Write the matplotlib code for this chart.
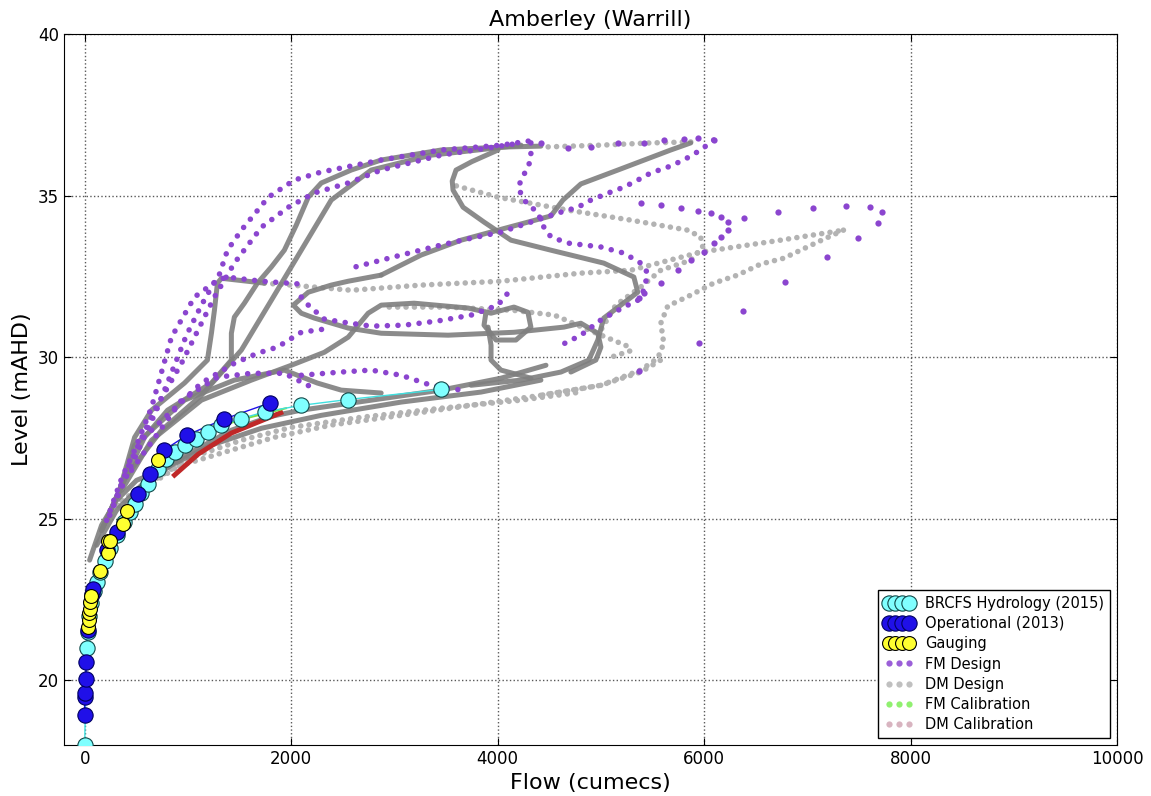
import matplotlib
matplotlib.use('Agg')
import matplotlib.pyplot as plt
from matplotlib.lines import Line2D
from matplotlib.legend_handler import HandlerLine2D

# Rating curves (flow in cumecs, level in mAHD)
brcfs_flow = [0, 20, 30, 45, 65, 90, 116, 150, 196, 250, 310, 380, 440, 487, 550, 616, 712, 790,
              873, 970, 1083, 1196, 1325, 1512, 1750, 2099, 2550, 3453]
brcfs_level = [18.0, 21.0, 21.5, 22.0, 22.4, 22.75, 23.04, 23.35, 23.7, 24.1, 24.5, 24.9, 25.2, 25.47,
               25.8, 26.09, 26.55, 26.85, 27.07, 27.28, 27.48, 27.69, 27.89, 28.1, 28.31, 28.51, 28.69, 29.0]

oper_flow = [0, 0, 5, 10, 15, 30, 68, 84, 213, 309, 519, 632, 767, 993, 1347, 1799]
oper_level = [18.92, 19.5, 19.6, 20.05, 20.57, 21.55, 22.68, 22.84, 24.03, 24.59, 25.78, 26.37,
              27.12, 27.59, 28.08, 28.59]

gauge_flow = [36, 42, 45, 50, 55, 62, 148, 222, 229, 243, 374, 413, 712]
gauge_level = [21.65, 21.86, 22.07, 22.22, 22.42, 22.6, 23.38, 23.95, 24.31, 24.3, 24.85, 25.23, 26.83]

# DM design events - dense traces
dm1_q = [164, 338, 484, 648, 967, 1189, 1228, 1257, 1286, 1325, 1741]
dm1_h = [24.64, 25.88, 27.52, 28.36, 29.2, 29.91, 30.74, 31.45, 32.29, 32.44, 32.29]
dm2_q = [164, 358, 580, 803, 1228, 1421, 1421, 1450, 1547, 1673, 1808, 1934, 2050, 2166, 2292, 2582,
         2872, 3452, 4033, 4419]
dm2_h = [24.64, 26.03, 27.52, 28.36, 29.2, 29.91, 30.74, 31.24, 31.67, 32.29, 32.79, 33.31, 34.09,
         34.95, 35.39, 35.79, 36.1, 36.41, 36.5, 36.53]
dm3_q = [164, 406, 745, 1131, 1518, 1808, 2098, 2388, 2775, 3355, 4226]
dm3_h = [24.64, 26.34, 27.74, 28.82, 30.22, 31.76, 33.31, 34.86, 35.79, 36.25, 36.56]
dm4_q = [4003, 3750, 3597, 3560, 3568, 3665, 3868, 4129, 4516, 5028, 5319, 5357, 5193, 5028, 4970,
         4883, 4613, 4226, 3742]
dm4_h = [36.41, 36.05, 35.79, 35.45, 35.17, 34.64, 34.18, 33.62, 33.31, 32.91, 32.48, 32.01, 31.61,
         31.21, 30.53, 29.91, 29.54, 29.29, 29.13]
dm5_q = [2872, 3259, 3646, 4003, 4516, 4632, 4806, 5164, 5676, 5870]
dm5_h = [32.54, 33.16, 33.62, 33.93, 34.37, 34.86, 35.36, 35.79, 36.41, 36.63]
dm6_q = [2872, 2553, 2388, 2166, 2021, 2098, 2224, 2553, 2872, 3520, 4158, 4642, 4806, 4970, 5000,
         4951, 4709]
dm6_h = [32.54, 32.35, 32.23, 32.01, 31.61, 31.36, 31.21, 30.9, 30.74, 30.68, 30.77, 30.93, 31.05,
         30.74, 30.31, 29.91, 29.54]
dm7_q = [358, 648, 1131, 1615, 2002, 2321, 2553, 2746, 2872, 3191, 3713, 3936, 4158, 4293, 4322, 4177,
         3984, 3868, 3887]
dm7_h = [25.88, 27.43, 28.67, 29.29, 29.75, 30.15, 30.62, 31.36, 31.61, 31.67, 31.52, 31.36, 31.55,
         31.39, 30.93, 30.53, 30.53, 30.99, 31.39]
dm8_q = [358, 484, 967, 1450, 1934, 2253, 2485, 2872]
dm8_h = [26.03, 27.27, 28.67, 29.29, 29.6, 29.2, 28.98, 28.89]
dm9_q = [3907, 3936, 3936, 4032, 4322]
dm9_h = [30.93, 30.37, 29.91, 29.6, 29.35]
dm10_q = [48, 164, 309, 503, 745, 1035, 1421, 1808, 2098, 2582, 3452, 4033, 4468]
dm10_h = [23.72, 24.8, 25.57, 26.19, 26.5, 27.06, 27.74, 28.17, 28.36, 28.58, 28.98, 29.35, 29.75]
dm11_q = [116, 309, 551, 841, 1228, 1712, 2292, 3065, 3839, 4419]
dm11_h = [24.18, 25.26, 26.04, 26.66, 27.28, 27.8, 28.2, 28.61, 28.92, 29.29]

# DM design events - sparse traces
dms1_q = [1741, 2002, 2582, 3259, 4033, 4806, 5290, 5966, 6740, 7349]
dms1_h = [32.29, 32.23, 32.07, 32.23, 32.35, 32.6, 32.69, 33.25, 33.62, 33.93]
dms2_q = [7349, 7098, 6934, 6769, 6547, 6324, 6092, 5870, 5647, 5580, 5609, 5551, 5386, 5000, 4419]
dms2_h = [33.93, 33.56, 33.31, 33.06, 32.88, 32.54, 32.29, 31.92, 31.58, 31.05, 30.43, 29.97, 29.6,
          29.13, 28.82]
dms3_q = [3600, 4003, 4680, 5290, 5841, 5966, 5986, 5870, 5580, 5386, 5144, 5000]
dms3_h = [35.3, 34.95, 34.55, 34.24, 33.93, 33.72, 33.41, 33.0, 32.69, 32.17, 31.61, 30.84]
dms4_q = [5870, 5483, 5000, 4419]
dms4_h = [36.66, 36.63, 36.56, 36.5]
dms5_q = [358, 870, 1354, 1837, 2388, 3065, 3742, 4419, 5000, 5386, 5580]
dms5_h = [25.57, 26.59, 27.06, 27.52, 27.9, 28.2, 28.51, 28.82, 29.13, 29.54, 29.91]
dms6_q = [261, 1035, 1518, 2002, 2679, 3452, 4226, 4806]
dms6_h = [25.26, 26.9, 27.43, 27.83, 28.14, 28.42, 28.67, 28.92]
dms7_q = [2950, 3500, 4150, 4550, 4950, 5250, 5290, 5050]
dms7_h = [31.55, 31.55, 31.45, 31.3, 30.75, 30.35, 30.2, 29.95]

# FM design events
fm1_q = [213, 358, 484, 648, 841, 1064, 1286, 1383, 1518, 1779, 2031, 2292, 2872, 3452, 4033, 4371]
fm1_h = [24.95, 26.25, 27.12, 28.45, 30.62, 31.86, 32.38, 33.31, 33.93, 34.95, 35.48, 35.73, 36.1,
         36.41, 36.56, 36.72]
fm2_q = [242, 406, 677, 938, 1257, 1450, 1712, 1973, 2224, 2553, 2872, 3452, 4226]
fm2_h = [25.11, 26.5, 28.36, 29.81, 31.86, 32.91, 34.02, 34.64, 35.08, 35.39, 35.79, 36.25, 36.63]
fm3_q = [242, 454, 696, 890, 986, 1131, 1257, 1373, 1712, 2098]
fm3_h = [25.11, 26.66, 28.36, 29.91, 30.68, 31.61, 32.32, 32.48, 32.35, 32.26]
fm4_q = [4322, 4322, 4197, 4255, 4390, 4448, 4516, 4680, 4999, 5222, 5386, 5454, 5415, 5357, 5222,
         4999, 4806, 4613]
fm4_h = [36.63, 36.1, 35.26, 34.86, 34.46, 34.02, 33.72, 33.53, 33.41, 33.22, 32.91, 32.6, 32.07,
         31.76, 31.55, 31.15, 30.68, 30.37]
fm5_q = [6092, 5966, 5802, 5647, 5483, 5357, 5222, 5096, 4903, 4777, 4584, 4322, 4032, 3742, 3452,
         3065, 2582]
fm5_h = [36.72, 36.41, 36.1, 35.88, 35.7, 35.48, 35.26, 35.11, 34.86, 34.64, 34.46, 34.18, 33.87,
         33.68, 33.47, 33.16, 32.76]
fm6_q = [2098, 2166, 2321, 2485, 2775, 3094, 3420, 3742, 4003, 4081, 4148]
fm6_h = [31.86, 31.61, 31.18, 31.09, 30.96, 30.99, 31.12, 31.3, 31.61, 31.92, 32.14]
fm7_q = [454, 938, 1286, 1610, 1934, 2253]
fm7_h = [26.5, 28.67, 29.38, 29.5, 29.5, 28.98]
fm8_q = [648, 1131, 1450, 1673, 1866, 2098, 2388]
fm8_h = [27.74, 29.2, 29.81, 30.12, 30.31, 30.77, 30.9]
fm9_q = [2098, 2485, 2775, 3065, 3355, 3646]
fm9_h = [29.44, 29.54, 29.6, 29.44, 29.13, 28.98]
# FM design - coarse time step events (individual points)
fmp1_q = [4419, 4680, 4903, 5164, 5415, 5609, 5802, 5937, 6092]
fmp1_h = [36.63, 36.47, 36.5, 36.63, 36.63, 36.72, 36.75, 36.78, 36.72]
fmp2_q = [5386, 5580, 5773, 5937, 6063, 6160, 6227, 6227, 6160, 6092, 5995, 5870, 5744, 5580, 5415, 5367]
fmp2_h = [34.77, 34.71, 34.61, 34.52, 34.46, 34.33, 34.18, 33.93, 33.72, 33.53, 33.25, 33.0, 32.69,
          32.29, 31.98, 31.83]
fmp3_q = [6382, 6711, 7059, 7369, 7611, 7727, 7688, 7494, 7194, 6779, 6373, 5947, 5367]
fmp3_h = [34.3, 34.49, 34.61, 34.67, 34.64, 34.49, 34.15, 33.68, 33.1, 32.32, 31.42, 30.43, 29.57]

# Calibration events
fmcal_q = [1300, 1550, 1950]
fmcal_h = [27.85, 28.1, 28.42]
dmcal_q = [870, 1100, 1420, 1900]
dmcal_h = [26.35, 27.0, 27.65, 28.28]

purple = '#8b45cf'
dark_grey = '#7f7f7f'
light_grey = '#b3b3b3'
dots = (0, (0.01, 1.5))

fig = plt.figure(figsize=(11.51, 7.96), dpi=100)
ax = fig.add_axes([0.0556, 0.0641, 0.915, 0.8932])

for q, h in [(dms1_q, dms1_h), (dms2_q, dms2_h), (dms3_q, dms3_h), (dms4_q, dms4_h),
             (dms5_q, dms5_h), (dms6_q, dms6_h), (dms7_q, dms7_h)]:
    ax.plot(q, h, color=light_grey, lw=4, linestyle=dots, dash_capstyle='round', zorder=2)

for q, h in [(dm1_q, dm1_h), (dm2_q, dm2_h), (dm3_q, dm3_h), (dm4_q, dm4_h), (dm5_q, dm5_h),
             (dm6_q, dm6_h), (dm7_q, dm7_h), (dm8_q, dm8_h), (dm9_q, dm9_h), (dm10_q, dm10_h),
             (dm11_q, dm11_h)]:
    ax.plot(q, h, color=dark_grey, lw=3.6, alpha=0.9, solid_capstyle='round',
            solid_joinstyle='round', zorder=3)

for q, h in [(fm1_q, fm1_h), (fm2_q, fm2_h), (fm3_q, fm3_h), (fm4_q, fm4_h), (fm5_q, fm5_h),
             (fm6_q, fm6_h), (fm7_q, fm7_h), (fm8_q, fm8_h), (fm9_q, fm9_h)]:
    ax.plot(q, h, color=purple, lw=4, linestyle=(0, (0.01, 1.9)), dash_capstyle='round', zorder=4)

for q, h in [(fmp1_q, fmp1_h), (fmp2_q, fmp2_h), (fmp3_q, fmp3_h)]:
    ax.plot(q, h, 'o', color=purple, ms=4.5, mew=0, zorder=4)

ax.plot(dmcal_q, dmcal_h, color='#c02828', lw=3.5, zorder=5)
ax.plot(fmcal_q, fmcal_h, color='#7fe040', lw=1.5, zorder=5)

ax.plot(brcfs_flow, brcfs_level, color='#40e0e0', lw=1, zorder=6)
ax.plot(brcfs_flow, brcfs_level, 'o', color='#80ffff', mec='#104848', mew=0.8, ms=11, zorder=7)
ax.plot(oper_flow, oper_level, color='#2010e8', lw=1, zorder=6)
ax.plot(oper_flow, oper_level, 'o', color='#2010e8', mec='#000060', mew=0.8, ms=11, zorder=8)
ax.plot(gauge_flow, gauge_level, 'o', color='#ffff30', mec='k', mew=0.8, ms=10, zorder=9)

ax.set_xlim(-200, 10000)
ax.set_ylim(18, 40)
ax.set_xticks([0, 2000, 4000, 6000, 8000, 10000])
ax.set_yticks([20, 25, 30, 35, 40])
ax.tick_params(direction='in', top=True, right=True, labelsize=12, length=5)
ax.grid(True, linestyle=':', color='0.35', lw=1)
ax.set_axisbelow(True)

ax.set_title('Amberley (Warrill)', fontsize=16, pad=6)
ax.set_xlabel('Flow (cumecs)', fontsize=16)
ax.set_ylabel('Level (mAHD)', fontsize=16)

handles = [
    Line2D([], [], marker='o', ls='none', color='#80ffff', mec='#104848', mew=0.8, ms=11),
    Line2D([], [], marker='o', ls='none', color='#2010e8', mec='#000060', mew=0.8, ms=11),
    Line2D([], [], marker='o', ls='none', color='#ffff30', mec='k', mew=0.8, ms=10),
    Line2D([], [], marker='o', ls='none', color='#9b5fd8', mew=0, ms=4.5),
    Line2D([], [], marker='o', ls='none', color='#c0c0c0', mew=0, ms=4.5),
    Line2D([], [], marker='o', ls='none', color='#90f070', mew=0, ms=4.5),
    Line2D([], [], marker='o', ls='none', color='#d8b4c0', mew=0, ms=4.5),
]
labels = ['BRCFS Hydrology (2015)', 'Operational (2013)', 'Gauging', 'FM Design', 'DM Design',
          'FM Calibration', 'DM Calibration']
hmap = {h: HandlerLine2D(numpoints=4 if i < 3 else 3) for i, h in enumerate(handles)}
leg = ax.legend(handles, labels, handler_map=hmap, loc='lower right', fontsize=10.5,
                handlelength=2.0, handletextpad=0.8, labelspacing=0.35, borderpad=0.4,
                fancybox=False, framealpha=1, edgecolor='k')
leg.get_frame().set_linewidth(1.0)

fig.savefig('out.png', dpi=100)
